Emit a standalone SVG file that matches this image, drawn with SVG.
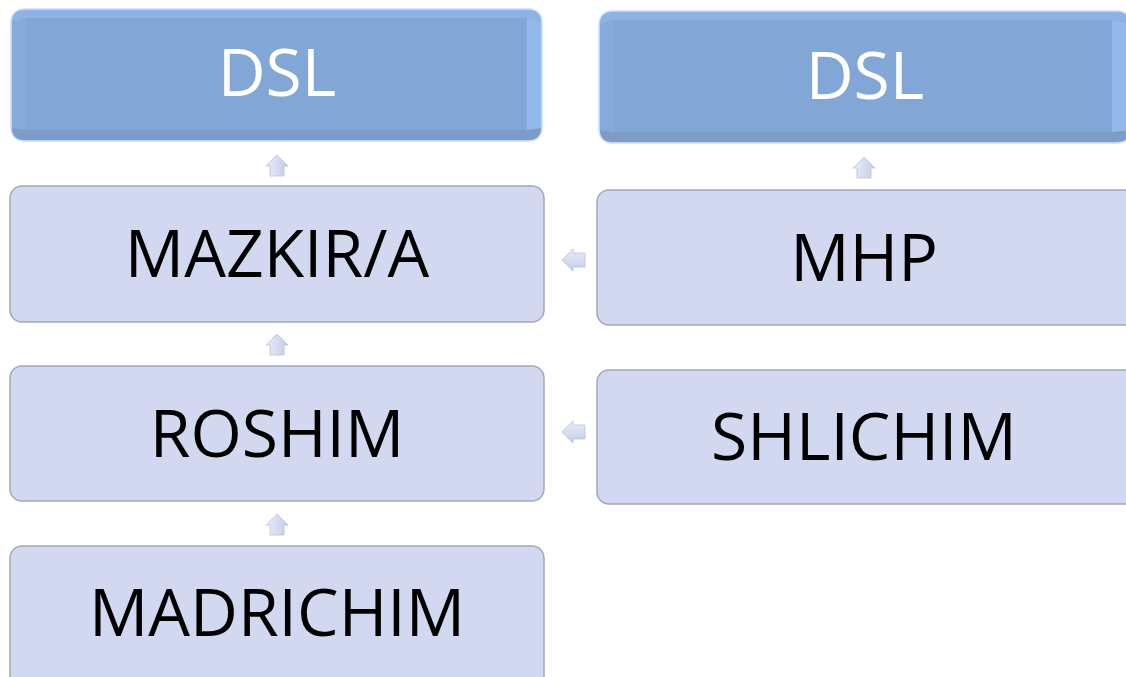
<svg xmlns="http://www.w3.org/2000/svg" width="1126" height="677" viewBox="0 0 1126 677">
<defs>
<linearGradient id="arrowV" x1="0" y1="0" x2="1" y2="0">
<stop offset="0" stop-color="#E8EDF8"/>
<stop offset="1" stop-color="#C4CDE6"/>
</linearGradient>
<linearGradient id="arrowH" x1="0" y1="0" x2="0" y2="1">
<stop offset="0" stop-color="#E8EDF8"/>
<stop offset="1" stop-color="#C4CDE6"/>
</linearGradient>
</defs>
<style>
.dark-glow{fill:none;stroke:#D6E5F8;stroke-width:4}
.dark-outer{fill:#86AADD;stroke:#A9C6EE;stroke-width:1}
.bev-top{fill:#8DB2E6}
.bev-bot{fill:#7E9CC8}
.bev-side{fill:#86AADC}
.bev-right{fill:#93B8EC}
.dark-inner{fill:#82A6D6}
.light{fill:#D3D8F1;stroke:#A3A7B9;stroke-width:1.5}
.t{font-family:"Open Sans","Noto Sans","DejaVu Sans",sans-serif;font-size:66px;text-anchor:middle}
.tw{fill:#FFFFFF}
.tb{fill:#000000}
.arr{fill:url(#arrowV);stroke:#B7C1DC;stroke-width:0.8}
.arrh{fill:url(#arrowH);stroke:#B7C1DC;stroke-width:0.8}
</style>

<g id="connectors">
<path class="arr" d="M277,155 L288,166 L284,166 L284,176 L270,176 L270,166 L266,166 Z"/>
<path class="arr" d="M864,157 L875,168 L871,168 L871,178 L857,178 L857,168 L853,168 Z"/>
<path class="arr" d="M277,334 L288,345 L284,345 L284,355 L270,355 L270,345 L266,345 Z"/>
<path class="arr" d="M277,514 L288,525 L284,525 L284,535 L270,535 L270,525 L266,525 Z"/>
<path class="arrh" d="M562,260 L573,249 L573,253 L585,253 L585,267 L573,267 L573,271 Z"/>
<path class="arrh" d="M562,432 L573,421 L573,425 L585,425 L585,439 L573,439 L573,443 Z"/>
</g>

<g id="node-dsl-left">
<rect class="dark-glow" x="12" y="10" width="529" height="130" rx="12"/>
<rect class="dark-outer" x="12" y="10" width="529" height="130" rx="12"/>
<path class="bev-top" d="M24,10 L529,10 Q541,10 541,22 L527,18 L26,18 L12,22 Q12,10 24,10 Z"/>
<path class="bev-bot" d="M26,130 L527,130 L541,128 Q541,140 529,140 L24,140 Q12,140 12,128 Z"/>
<path class="bev-side" d="M12,22 L26,18 L26,130 L12,128 Z"/>
<path class="bev-right" d="M541,22 L527,18 L527,130 L541,128 Z"/>
<rect class="dark-inner" x="26" y="18" width="501" height="112"/>
<text class="t tw" x="277" y="96">DSL</text>
</g>

<g id="node-dsl-right">
<rect class="dark-glow" x="600" y="12" width="530" height="130" rx="12"/>
<rect class="dark-outer" x="600" y="12" width="530" height="130" rx="12"/>
<path class="bev-top" d="M612,12 L1118,12 Q1130,12 1130,24 L1112,20 L614,20 L600,24 Q600,12 612,12 Z"/>
<path class="bev-bot" d="M614,132 L1112,132 L1130,130 Q1130,142 1118,142 L612,142 Q600,142 600,130 Z"/>
<path class="bev-side" d="M600,24 L614,20 L614,132 L600,130 Z"/>
<path class="bev-right" d="M1130,24 L1112,20 L1112,132 L1130,130 Z"/>
<rect class="dark-inner" x="614" y="20" width="498" height="112"/>
<text class="t tw" x="865" y="99">DSL</text>
</g>

<g id="node-mazkira">
<rect class="light" x="10" y="186" width="534" height="136" rx="12"/>
<text class="t tb" x="277" y="277">MAZKIR/A</text>
</g>

<g id="node-mhp">
<rect class="light" x="597" y="190" width="540" height="135" rx="12"/>
<text class="t tb" x="864" y="281">MHP</text>
</g>

<g id="node-roshim">
<rect class="light" x="10" y="366" width="534" height="135" rx="12"/>
<text class="t tb" x="277" y="457">ROSHIM</text>
</g>

<g id="node-shlichim">
<rect class="light" x="597" y="370" width="540" height="134" rx="12"/>
<text class="t tb" x="864" y="460">SHLICHIM</text>
</g>

<g id="node-madrichim">
<rect class="light" x="10" y="546" width="534" height="145" rx="12"/>
<text class="t tb" x="277" y="636">MADRICHIM</text>
</g>
</svg>
